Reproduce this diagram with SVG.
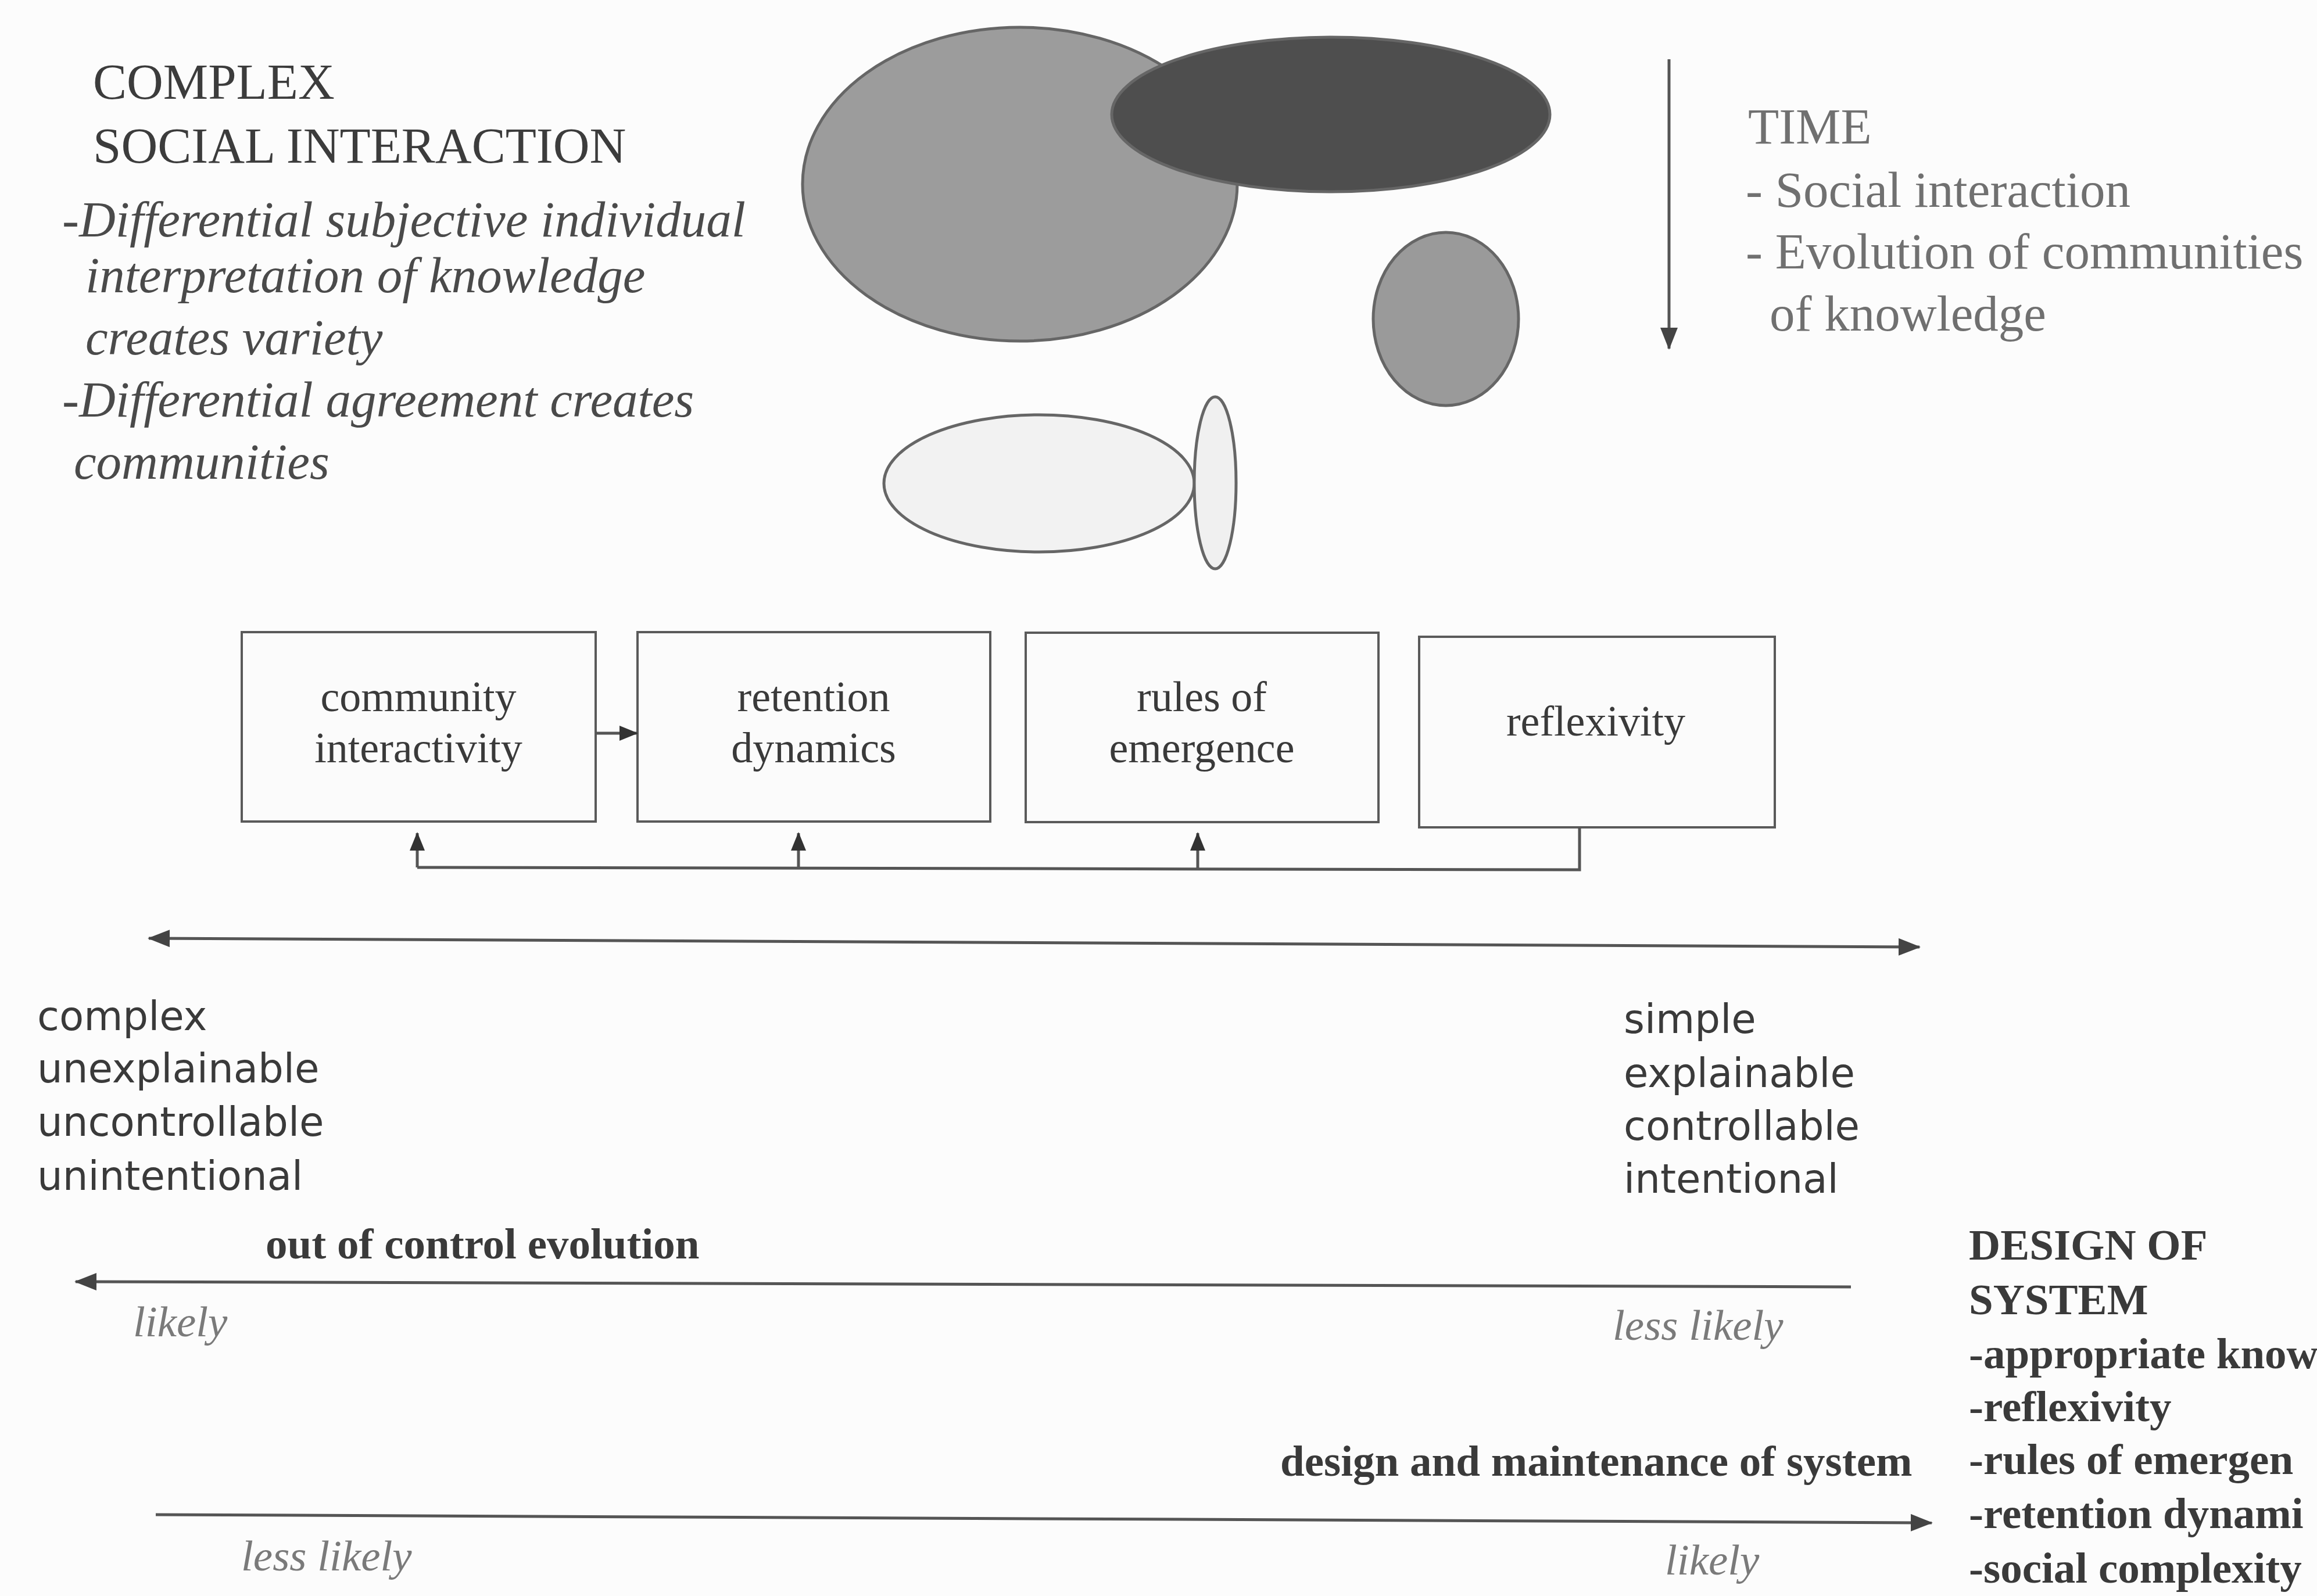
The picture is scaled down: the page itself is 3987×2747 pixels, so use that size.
<svg xmlns="http://www.w3.org/2000/svg" width="3987" height="2747" viewBox="0 0 3987 2747">
  <style>
    .serif { font-family: "Liberation Serif", "Times New Roman", serif; }
    .title { font-size: 87px; fill: #3c3c3c; }
    .note { font-size: 87px; font-style: italic; fill: #4a4a4a; }
    .time { font-size: 87px; fill: #707070; }
    .box { fill: #fbfbfb; stroke: #5a5a5a; stroke-width: 4; }
    .boxtext { font-size: 74px; fill: #3a3a3a; text-anchor: middle; }
    .scale { font-family: "Comic Sans MS", "DejaVu Sans", sans-serif; font-size: 69px; fill: #3a3a3a; }
    .bold { font-size: 75px; font-weight: bold; fill: #3a3a3a; }
    .odds { font-size: 75px; font-style: italic; fill: #7a7a7a; }
    .line { fill: none; stroke: #555; stroke-width: 5; }
    .blob { stroke: #666; stroke-width: 5; }
  </style>
  <defs>
    <marker id="head" markerUnits="userSpaceOnUse" markerWidth="38" markerHeight="30" refX="36" refY="15" orient="auto-start-reverse">
      <path d="M0,0 L38,15 L0,30 z" fill="#444"/>
    </marker>
    <marker id="headSmall" markerUnits="userSpaceOnUse" markerWidth="32" markerHeight="26" refX="30" refY="13" orient="auto">
      <path d="M0,0 L32,13 L0,26 z" fill="#333"/>
    </marker>
  </defs>

  <rect width="3987" height="2747" fill="#fcfcfc"/>

  <!-- heading and notes on social interaction -->
  <g id="social-interaction" class="serif">
    <text class="title" x="160" y="170">COMPLEX</text>
    <text class="title" x="160" y="280">SOCIAL INTERACTION</text>
    <text class="note" x="107" y="407">-Differential subjective individual</text>
    <text class="note" x="147" y="503">interpretation of knowledge</text>
    <text class="note" x="147" y="610">creates variety</text>
    <text class="note" x="107" y="717">-Differential agreement creates</text>
    <text class="note" x="127" y="824">communities</text>
  </g>

  <!-- communities of knowledge -->
  <g id="communities">
    <ellipse class="blob" cx="1755" cy="317" rx="374" ry="270" fill="#9c9c9c"/>
    <ellipse class="blob" cx="2290" cy="197" rx="377" ry="133" fill="#4e4e4e" stroke="#444"/>
    <ellipse class="blob" cx="2488" cy="549" rx="125" ry="149" fill="#9a9a9a"/>
    <ellipse class="blob" cx="1788" cy="832" rx="267" ry="118" fill="#f2f2f2" stroke="#777"/>
    <ellipse class="blob" cx="2091" cy="831" rx="36" ry="148" fill="#f0f0f0" stroke="#777"/>
  </g>

  <!-- time axis -->
  <g id="time" class="serif">
    <line class="line" x1="2872" y1="102" x2="2872" y2="600" stroke="#777" stroke-width="4" marker-end="url(#head)"/>
    <text class="time" x="3008" y="247">TIME</text>
    <text class="time" x="3004" y="356">- Social interaction</text>
    <text class="time" x="3004" y="462">- Evolution of communities</text>
    <text class="time" x="3045" y="569">of knowledge</text>
  </g>

  <!-- process boxes -->
  <g id="community-interactivity" class="serif">
    <rect class="box" x="416" y="1088" width="609" height="326"/>
    <text class="boxtext" x="720" y="1224">community</text>
    <text class="boxtext" x="720" y="1312">interactivity</text>
  </g>
  <g id="retention-dynamics" class="serif">
    <rect class="box" x="1097" y="1088" width="607" height="326"/>
    <text class="boxtext" x="1400" y="1224">retention</text>
    <text class="boxtext" x="1400" y="1312">dynamics</text>
  </g>
  <g id="rules-of-emergence" class="serif">
    <rect class="box" x="1765" y="1089" width="607" height="326"/>
    <text class="boxtext" x="2068" y="1224">rules of</text>
    <text class="boxtext" x="2068" y="1312">emergence</text>
  </g>
  <g id="reflexivity" class="serif">
    <rect class="box" x="2442" y="1096" width="612" height="328"/>
    <text class="boxtext" x="2746" y="1266">reflexivity</text>
  </g>

  <!-- connectors between the boxes -->
  <g id="connectors">
    <line class="line" x1="1025" y1="1262" x2="1096" y2="1262" marker-end="url(#headSmall)"/>
    <polyline class="line" points="2718,1424 2718,1497 718,1493"/>
    <line class="line" x1="718" y1="1493" x2="718" y2="1434" marker-end="url(#headSmall)"/>
    <line class="line" x1="1374" y1="1494" x2="1374" y2="1434" marker-end="url(#headSmall)"/>
    <line class="line" x1="2061" y1="1495" x2="2061" y2="1434" marker-end="url(#headSmall)"/>
  </g>

  <!-- complexity scale -->
  <g id="scale">
    <line class="line" x1="256" y1="1615" x2="3303" y2="1630" marker-start="url(#head)" marker-end="url(#head)"/>
    <text class="scale" x="64" y="1773">complex</text>
    <text class="scale" x="64" y="1863">unexplainable</text>
    <text class="scale" x="64" y="1955">uncontrollable</text>
    <text class="scale" x="64" y="2048">unintentional</text>
    <text class="scale" x="2794" y="1778">simple</text>
    <text class="scale" x="2794" y="1871">explainable</text>
    <text class="scale" x="2794" y="1962">controllable</text>
    <text class="scale" x="2794" y="2053">intentional</text>
  </g>

  <!-- out of control evolution -->
  <g id="evolution" class="serif">
    <text class="bold" x="457" y="2166">out of control evolution</text>
    <line class="line" x1="3185" y1="2215" x2="130" y2="2206" marker-end="url(#head)"/>
    <text class="odds" x="229" y="2300">likely</text>
    <text class="odds" x="2775" y="2306">less likely</text>
  </g>

  <!-- design and maintenance -->
  <g id="design" class="serif">
    <text class="bold" x="2203" y="2540">design and maintenance of system</text>
    <line class="line" x1="268" y1="2607" x2="3324" y2="2621" marker-end="url(#head)"/>
    <text class="odds" x="415" y="2703">less likely</text>
    <text class="odds" x="2865" y="2710">likely</text>
  </g>

  <!-- design of system list -->
  <g id="design-of-system" class="serif">
    <text class="bold" x="3388" y="2168">DESIGN OF</text>
    <text class="bold" x="3388" y="2262">SYSTEM</text>
    <text class="bold" x="3388" y="2355">-appropriate know</text>
    <text class="bold" x="3388" y="2446">-reflexivity</text>
    <text class="bold" x="3388" y="2537">-rules of emergen</text>
    <text class="bold" x="3388" y="2630">-retention dynami</text>
    <text class="bold" x="3388" y="2724">-social complexity</text>
  </g>
</svg>
